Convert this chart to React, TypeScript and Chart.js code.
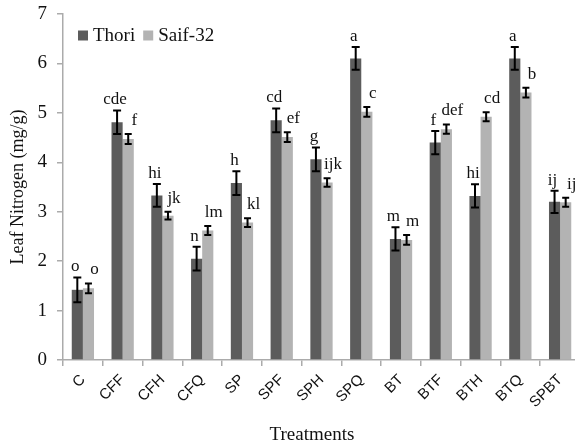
import React, { useEffect, useRef } from "react";
import { Chart, registerables } from "chart.js";

Chart.register(...registerables);

const categories = ["C", "CFF", "CFH", "CFQ", "SP", "SPF", "SPH", "SPQ", "BT", "BTF", "BTH", "BTQ", "SPBT"];
const thoriValues = [1.42, 4.81, 3.33, 2.05, 3.58, 4.85, 4.06, 6.1, 2.45, 4.4, 3.32, 6.1, 3.2];
const thoriErrors = [0.25, 0.24, 0.23, 0.24, 0.24, 0.24, 0.24, 0.23, 0.235, 0.235, 0.235, 0.23, 0.225];
const thoriLetters = ["o", "cde", "hi", "n", "h", "cd", "g", "a", "m", "f", "hi", "a", "ij"];
const saifValues = [1.45, 4.47, 2.92, 2.62, 2.78, 4.51, 3.59, 5.02, 2.43, 4.67, 4.92, 5.41, 3.19];
const saifErrors = [0.1, 0.1, 0.08, 0.09, 0.09, 0.1, 0.085, 0.1, 0.1, 0.095, 0.09, 0.1, 0.09];
const saifLetters = ["o", "f", "jk", "lm", "kl", "ef", "ijk", "c", "m", "def", "cd", "b", "ij"];
const yTicks = [0, 1, 2, 3, 4, 5, 6, 7];

const SERIF = "'Liberation Serif', 'Times New Roman', serif";
const DARK = "#5c5c5c";
const LIGHT = "#b3b3b3";
const AXIS = "#ababab";

const errorPlugin = {
  id: "errorsAndLetters",
  afterDatasetsDraw(chart: any) {
    const ctx = chart.ctx;
    const y = chart.scales.y;
    const sets = [
      { err: thoriErrors, letters: thoriLetters, dx: -2, lift: 6, cap: 4 },
      { err: saifErrors, letters: saifLetters, dx: 6, lift: 9, cap: 3.5 },
    ];
    sets.forEach((s, di) => {
      const meta = chart.getDatasetMeta(di);
      const values = chart.data.datasets[di].data as number[];
      meta.data.forEach((bar: any, i: number) => {
        const v = values[i];
        const top = y.getPixelForValue(v + s.err[i]);
        const bot = y.getPixelForValue(v - s.err[i]);
        const x = bar.x;
        ctx.save();
        ctx.strokeStyle = "#000";
        ctx.lineWidth = 2;
        ctx.beginPath();
        ctx.moveTo(x, top);
        ctx.lineTo(x, bot);
        ctx.moveTo(x - s.cap, top);
        ctx.lineTo(x + s.cap, top);
        ctx.moveTo(x - s.cap, bot);
        ctx.lineTo(x + s.cap, bot);
        ctx.stroke();
        ctx.fillStyle = "#111";
        ctx.font = `17px ${SERIF}`;
        ctx.textAlign = "center";
        ctx.textBaseline = "alphabetic";
        ctx.fillText(s.letters[i], x + s.dx, top - s.lift);
        ctx.restore();
      });
    });
  },
  afterDraw(chart: any) {
    const ctx = chart.ctx;
    ctx.save();
    // legend
    ctx.font = `19px ${SERIF}`;
    ctx.textBaseline = "middle";
    ctx.textAlign = "left";
    let lx = 78;
    const ly = 36;
    chart.data.datasets.forEach((ds: any) => {
      ctx.fillStyle = ds.backgroundColor;
      ctx.fillRect(lx, ly - 5.5, 10, 10);
      ctx.fillStyle = "#111";
      ctx.fillText(ds.label, lx + 15, ly);
      lx += 15 + ctx.measureText(ds.label).width + 8;
    });
    // x axis title
    ctx.font = `19px ${SERIF}`;
    ctx.textAlign = "center";
    ctx.textBaseline = "alphabetic";
    ctx.fillStyle = "#111";
    ctx.fillText("Treatments", 312, 440);
    ctx.restore();
  },
};

export default function App() {
  const ref = useRef<HTMLCanvasElement | null>(null);
  useEffect(() => {
    if (!ref.current) return;
    const chart = new Chart(ref.current, {
      type: "bar",
      data: {
        labels: categories,
        datasets: [
          { label: "Thori", data: thoriValues, backgroundColor: DARK, barPercentage: 1, categoryPercentage: 0.56 },
          { label: "Saif-32", data: saifValues, backgroundColor: LIGHT, barPercentage: 1, categoryPercentage: 0.56 },
        ],
      },
      options: {
        animation: false,
        responsive: true,
        maintainAspectRatio: false,
        layout: { padding: { top: 14, left: 0, right: 0, bottom: 0 } },
        plugins: { legend: { display: false }, tooltip: { enabled: false } },
        scales: {
          x: {
            grid: { display: true, drawOnChartArea: false, tickLength: 6, color: AXIS, lineWidth: 1.5, offset: true },
            border: { color: AXIS, width: 1.5 },
            ticks: {
              minRotation: 45,
              maxRotation: 45,
              padding: 5,
              color: "#111",
              font: { family: "'Liberation Sans', Arial, sans-serif", size: 15 },
            },
            afterFit: (s: any) => {
              s.height = 82;
              s.paddingLeft = 0;
              s.paddingRight = 0;
            },
          },
          y: {
            min: 0,
            max: 7,
            afterBuildTicks: (s: any) => {
              s.ticks = yTicks.map((v) => ({ value: v }));
            },
            grid: { display: true, drawOnChartArea: false, tickLength: 6, color: AXIS, lineWidth: 1.5 },
            border: { color: AXIS, width: 1.5 },
            ticks: { padding: 10, color: "#111", font: { family: SERIF, size: 19 } },
            title: {
              display: true,
              text: "Leaf Nitrogen (mg/g)",
              color: "#111",
              font: { family: SERIF, size: 18 },
              padding: { top: 7, bottom: 0 },
            },
            afterFit: (s: any) => {
              s.width = 63;
              s.paddingTop = 0;
              s.paddingBottom = 0;
            },
          },
        },
      },
      plugins: [errorPlugin],
    });
    return () => chart.destroy();
  }, []);
  return (
    <div style={{ position: "absolute", left: 0, top: 0, width: 575, height: 442, overflow: "hidden", background: "#fff" }}>
      <div style={{ position: "relative", width: 580, height: 442 }}>
        <canvas ref={ref} />
      </div>
    </div>
  );
}
